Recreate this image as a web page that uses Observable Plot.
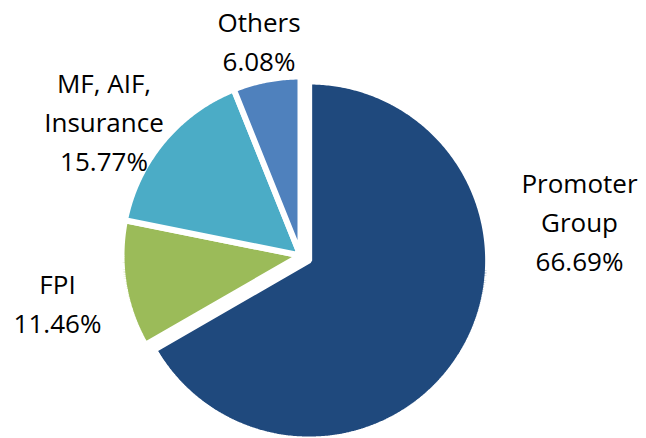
<!DOCTYPE html>
<html>
<head>
<meta charset="utf-8">
<script src="https://cdn.jsdelivr.net/npm/d3@7"></script>
<script src="https://cdn.jsdelivr.net/npm/@observablehq/plot@0.6"></script>
<style>
  html, body { margin: 0; padding: 0; background: #fff; }
  #chart { width: 646px; height: 438px; }
</style>
</head>
<body>
<div id="chart"></div>
<script>
// ---- data ----
const categories = ["Promoter Group", "FPI", "MF, AIF, Insurance", "Others"];
const shares = [66.69, 11.46, 15.77, 6.08];
const labelNames = ["Promoter\nGroup", "FPI", "MF, AIF,\nInsurance", "Others"];
const colors = ["#1F497D", "#9BBB59", "#4BACC6", "#4F81BD"];

// ---- layout ----
const W = 646, H = 438;
const cx = 300, cy = 255, R = 179;
const explode = [10, 0, 0, 0];
const labelAnchor = [[579, 219], [57, 301], [103.5, 119], [258.5, 39]];

const arcs = d3.pie().sort(null).value(d => d)(shares);
const pts = [];
arcs.forEach((a, i) => {
  const mid = (a.startAngle + a.endAngle) / 2;
  const ox = explode[i] * Math.sin(mid), oy = -explode[i] * Math.cos(mid);
  const name = categories[i];
  pts.push({name, x: cx + ox, y: cy + oy});
  const steps = Math.max(4, Math.ceil((a.endAngle - a.startAngle) / 0.01));
  for (let k = 0; k <= steps; k++) {
    const t = a.startAngle + (a.endAngle - a.startAngle) * k / steps;
    pts.push({name, x: cx + ox + R * Math.sin(t), y: cy + oy - R * Math.cos(t)});
  }
});

const labels = categories.map((c, i) => ({
  text: labelNames[i] + "\n" + shares[i].toFixed(2) + "%",
  x: labelAnchor[i][0], y: labelAnchor[i][1]
}));

const chart = Plot.plot({
  width: W, height: H,
  margin: 0,
  style: {fontFamily: "'Open Sans', 'Noto Sans', sans-serif", background: "#fff"},
  x: {domain: [0, W], range: [0, W], axis: null},
  y: {domain: [0, H], range: [0, H], axis: null},
  color: {domain: categories, range: colors},
  marks: [
    Plot.line(pts, {x: "x", y: "y", z: "name", fill: "name", stroke: "white",
      strokeWidth: 6, strokeLinejoin: "miter", curve: "linear-closed"}),
    Plot.text(labels, {x: "x", y: "y", text: "text", fontSize: 26,
      lineHeight: 1.5, fill: "#000", textAnchor: "middle", lineAnchor: "middle"})
  ]
});
document.getElementById("chart").appendChild(chart);
</script>
</body>
</html>
